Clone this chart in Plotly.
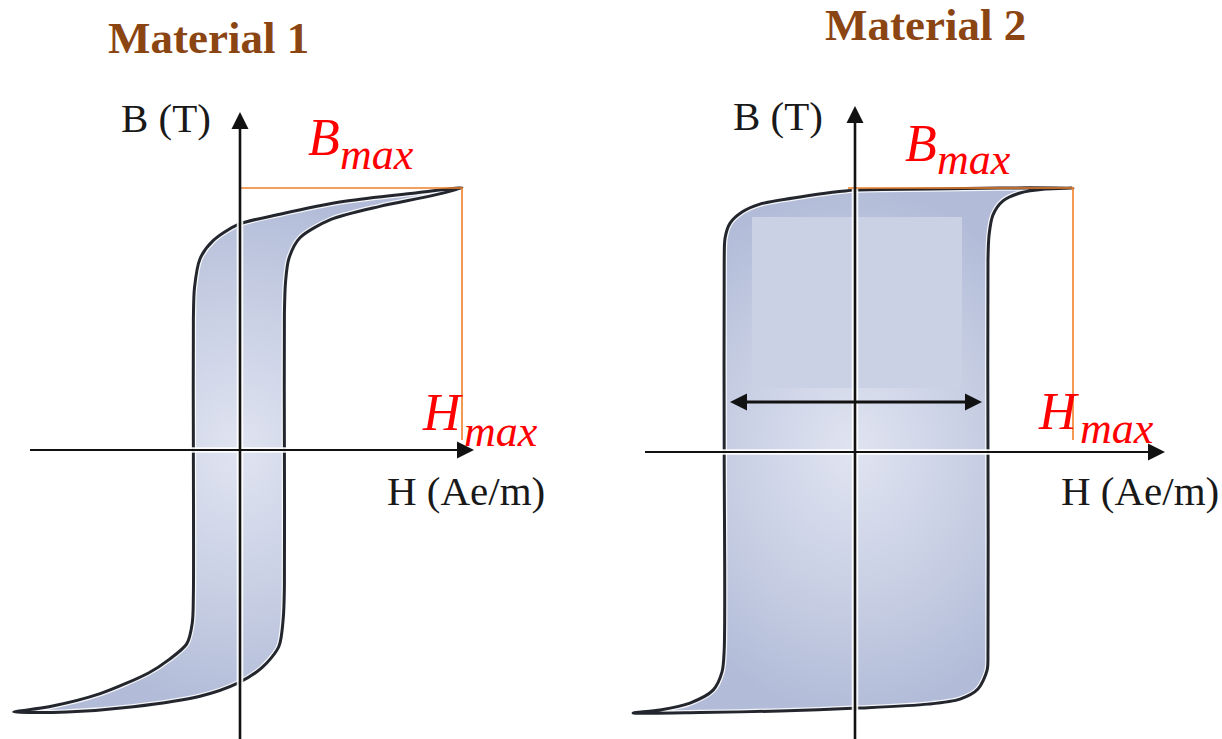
import plotly.graph_objects as go

# ---------------- data (H in units of Hmax, B in units of Bmax) ----------------
# Material 1 : narrow S-shaped loop
m1_desc_H = [1.00, 0.78, 0.48, 0.18, -0.01, -0.12, -0.18, -0.205, -0.21, -0.21, -0.21, -0.215, -0.24, -0.32, -0.41, -0.63, -0.86, -1.02]
m1_desc_B = [1.00, 0.98, 0.95, 0.90, 0.86, 0.80, 0.73, 0.62, 0.50, 0.00, -0.55, -0.66, -0.74, -0.80, -0.85, -0.93, -0.98, -1.00]
m1_asc_H = [-1.02, -0.78, -0.48, -0.18, -0.01, 0.10, 0.175, 0.195, 0.20, 0.20, 0.20, 0.205, 0.22, 0.27, 0.41, 0.63, 0.86, 1.00]
m1_asc_B = [-1.00, -1.00, -0.98, -0.94, -0.89, -0.83, -0.75, -0.64, -0.52, 0.00, 0.52, 0.64, 0.73, 0.81, 0.88, 0.93, 0.97, 1.00]

# Material 2 : wide, square loop
m2_desc_H = [1.00, 0.665, 0.344, 0.00, -0.252, -0.436, -0.518, -0.573, -0.596, -0.60, -0.60, -0.60, -0.61, -0.651, -0.757, -0.894, -1.018]
m2_desc_B = [1.00, 1.00, 0.996, 0.992, 0.966, 0.939, 0.909, 0.867, 0.811, 0.727, 0.00, -0.75, -0.833, -0.902, -0.951, -0.977, -0.989]
m2_asc_H = [-1.018, -0.711, -0.344, 0.014, 0.335, 0.482, 0.564, 0.606, 0.61, 0.61, 0.61, 0.615, 0.633, 0.679, 0.757, 0.872, 1.00]
m2_asc_B = [-0.989, -0.987, -0.981, -0.97, -0.955, -0.936, -0.898, -0.826, -0.75, 0.00, 0.727, 0.822, 0.898, 0.951, 0.981, 0.996, 1.00]

titles = ["Material 1", "Material 2"]
b_label = "B (T)"
h_label = "H (Ae/m)"
bmax_main, bmax_sub = "B", "max"
hmax_main, hmax_sub = "H", "max"

# ---------------- layout geometry (pixels of the 1222x739 canvas) ----------------
W, H = 1222, 739
SPLIT = 560
panels = [
    dict(ox=240, oy=450, sx=222, sy=262, px0=0, px1=SPLIT),
    dict(ox=855, oy=452, sx=218, sy=264, px0=SPLIT, px1=W),
]

LOOP_LINE = "rgb(36,38,46)"
ORANGE = "rgb(240,128,40)"
BROWN = "rgb(139,69,19)"
INK = "rgb(18,18,18)"
GRADIENT = [[0, "rgb(224,228,241)"], [0.55, "rgb(200,207,228)"], [1, "rgb(178,188,216)"]]

fig = go.Figure()


def ax_names(i):
    return ("x", "y") if i == 0 else ("x2", "y2")


def dx(p, xpx):
    return (xpx - p["ox"]) / p["sx"]


def dy(p, ypx):
    return (p["oy"] - ypx) / p["sy"]


def line_trace(xs, ys, xa, ya, color, width, shape="linear"):
    return go.Scatter(x=xs, y=ys, xaxis=xa, yaxis=ya, mode="lines",
                      line=dict(color=color, width=width, shape=shape, smoothing=0.8),
                      hoverinfo="skip", showlegend=False)


loops = [
    (m1_desc_H + m1_asc_H[1:], m1_desc_B + m1_asc_B[1:]),
    (m2_desc_H + m2_asc_H[1:], m2_desc_B + m2_asc_B[1:]),
]

# hysteresis loops (gradient fill, thin white inner glow, dark outline)
for i, (hx, by) in enumerate(loops):
    xa, ya = ax_names(i)
    fig.add_trace(go.Scatter(
        x=hx, y=by, xaxis=xa, yaxis=ya, mode="lines",
        line=dict(color="rgba(255,255,255,0.85)", width=5.5, shape="spline", smoothing=0.8),
        fill="toself", fillgradient=dict(type="radial", colorscale=GRADIENT),
        hoverinfo="skip", showlegend=False,
    ))

# lighter inner patch of material 2 (drawn below the axes)
p2 = panels[1]
rx0, rx1, ry0, ry1 = dx(p2, 752), dx(p2, 962), dy(p2, 388), dy(p2, 217)
fig.add_trace(go.Scatter(
    x=[rx0, rx1, rx1, rx0, rx0], y=[ry0, ry0, ry1, ry1, ry0], xaxis="x2", yaxis="y2",
    mode="lines", line=dict(width=0), fill="toself", fillcolor="rgb(203,209,229)",
    hoverinfo="skip", showlegend=False))

for i, (hx, by) in enumerate(loops):
    xa, ya = ax_names(i)
    fig.add_trace(line_trace(hx, by, xa, ya, LOOP_LINE, 3, "spline"))

axis_specs = [
    # (hor start px, hor end px, vert top px, vert bottom px, orange left px)
    (30, 474, 112, 739, 240),
    (645, 1165, 106, 739, 848),
]
for i, p in enumerate(panels):
    xa, ya = ax_names(i)
    hs, he, vt, vb, ol = axis_specs[i]
    hx_line = [dx(p, hs), dx(p, he) - 0.02]
    vy_line = [dy(p, vb), dy(p, vt) - 0.02]
    # white halos
    fig.add_trace(line_trace(hx_line, [0, 0], xa, ya, "rgba(255,255,255,0.9)", 5.5))
    fig.add_trace(line_trace([0, 0], vy_line, xa, ya, "rgba(255,255,255,0.9)", 6.5))
    # orange Bmax / Hmax guide lines
    fig.add_trace(line_trace([dx(p, ol), 1.0, 1.0], [1.0, 1.0, dy(p, 440)], xa, ya, ORANGE, 1.6))
    # H axis
    fig.add_trace(line_trace(hx_line, [0, 0], xa, ya, INK, 2.2))
    fig.add_trace(go.Scatter(
        x=[dx(p, he)], y=[0], xaxis=xa, yaxis=ya, mode="markers",
        marker=dict(symbol="arrow-right", size=17, color=INK, line=dict(width=0)),
        hoverinfo="skip", showlegend=False))
    # B axis
    fig.add_trace(line_trace([0, 0], vy_line, xa, ya, INK, 2.6))
    fig.add_trace(go.Scatter(
        x=[0], y=[dy(p, vt)], xaxis=xa, yaxis=ya, mode="markers",
        marker=dict(symbol="arrow-up", size=17, color=INK, line=dict(width=0)),
        hoverinfo="skip", showlegend=False))

# coercivity double arrow in material 2
da_y = dy(p2, 402)
da_l, da_r = dx(p2, 730), dx(p2, 982)
fig.add_trace(line_trace([da_l + 0.03, da_r - 0.03], [da_y, da_y], "x2", "y2", INK, 3))
fig.add_trace(go.Scatter(
    x=[da_l, da_r], y=[da_y, da_y], xaxis="x2", yaxis="y2", mode="markers",
    marker=dict(symbol=["arrow-left", "arrow-right"], size=17, color=INK, line=dict(width=0)),
    hoverinfo="skip", showlegend=False))

layout = dict(
    width=W, height=H, margin=dict(l=0, r=0, t=0, b=0),
    paper_bgcolor="white", plot_bgcolor="rgba(0,0,0,0)", showlegend=False,
)
for i, p in enumerate(panels):
    sfx = "" if i == 0 else "2"
    xr = [dx(p, p["px0"]), dx(p, p["px1"])]
    yr = [dy(p, H), dy(p, 0)]
    layout["xaxis" + sfx] = dict(domain=[p["px0"] / W, p["px1"] / W], range=xr,
                                 visible=False, fixedrange=True, anchor="y" + sfx)
    layout["yaxis" + sfx] = dict(domain=[0, 1], range=yr, visible=False,
                                 fixedrange=True, anchor="x" + sfx)
fig.update_layout(**layout)

annotations = []


def add_text(txt, xp, yp, size, color, family="Liberation Serif", xanchor="center"):
    annotations.append(dict(xref="paper", yref="paper", x=xp / W, y=1 - yp / H,
                            xanchor=xanchor, yanchor="middle", showarrow=False,
                            text=txt, font=dict(family=family, size=size, color=color)))


add_text("<b>" + titles[0] + "</b>", 208, 38, 45, BROWN)
add_text("<b>" + titles[1] + "</b>", 925, 25, 45, BROWN)
add_text(b_label, 166, 118, 41, "rgb(25,25,25)")
add_text(b_label, 778, 116, 41, "rgb(25,25,25)")
add_text(h_label, 466, 491, 41, "rgb(25,25,25)")
add_text(h_label, 1140, 491, 41, "rgb(25,25,25)")

RED = "rgb(255,0,0)"
# (main left px, main center y px, sub left px, sub center y px)
max_labels = [
    (bmax_main, bmax_sub, 306, 137, 338, 155),
    (bmax_main, bmax_sub, 903, 143, 935, 160),
    (hmax_main, hmax_sub, 420, 413, 462, 431),
    (hmax_main, hmax_sub, 1036, 411, 1078, 429),
]
for main, sub, mx, my, sxp, syp in max_labels:
    add_text("<i>" + main + "</i>", mx, my, 52, RED, xanchor="left")
    add_text("<i>" + sub + "</i>", sxp, syp, 44, RED, xanchor="left")

fig.update_layout(annotations=annotations)
fig.write_html("out.html", config={"displayModeBar": False},
               post_script="document.body.style.margin='0px';")
